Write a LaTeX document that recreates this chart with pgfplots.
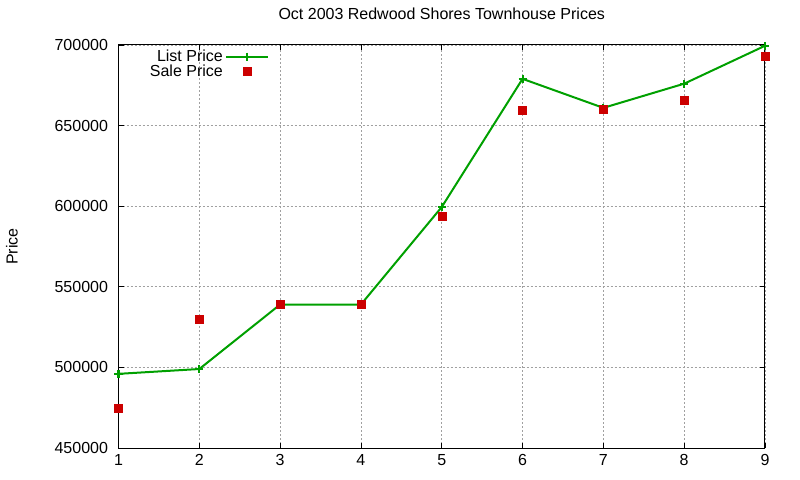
\documentclass[border=0pt]{standalone}
\usepackage{fontspec}
\setmainfont{Liberation Sans}
\usepackage{pgfplots}
\pgfplotsset{compat=1.18}

\definecolor{listgreen}{RGB}{0,160,0}
\definecolor{salered}{RGB}{204,0,0}
\definecolor{gridgray}{RGB}{160,160,160}

\pgfplotsset{
  listlegend/.style={legend image code/.code={\draw[##1, mark repeat=2, mark phase=2]
    plot coordinates {(0bp,0bp)(21bp,0bp)(42bp,0bp)};}},
  salelegend/.style={legend image code/.code={\draw[##1]
    plot coordinates {(21bp,0bp)};}},
}

\begin{document}
\fontsize{16bp}{19bp}\selectfont
\begin{tikzpicture}
\useasboundingbox (0,0) rectangle (800bp,480bp);
\begin{axis}[
  at={(118.5bp,32bp)}, anchor=south west,
  scale only axis, width=646.5bp, height=403bp,
  xmin=1, xmax=9, ymin=450000, ymax=700000,
  xtick={1,...,9},
  ytick={450000,500000,...,700000},
  scaled y ticks=false,
  /pgf/number format/.cd, fixed, set thousands separator={}, assume math mode=true,
  /pgfplots/.cd,
  tick align=inside, major tick length=5bp,
  tick style={black, line width=0.8bp},
  axis line style={black, line width=1bp},
  grid=major,
  major grid style={gridgray, line width=0.8bp, dash pattern=on 2bp off 2bp},
  title={Oct 2003 Redwood Shores Townhouse Prices},
  title style={at={(axis description cs:0.5,1)}, anchor=center, yshift=25bp},
  ylabel={Price},
  ylabel style={at={(axis description cs:-0.165,0.5)}, anchor=center},
  yticklabel style={xshift=-5bp},
  xticklabel style={yshift=-1bp},
  legend plot pos=right,
  legend cell align=right,
  legend style={draw=none, fill=none, at={(axis cs:2.875,700000)}, anchor=north east,
    yshift=-1.5bp, row sep=-3bp, inner sep=1bp,
    nodes={inner sep=2bp},
    /tikz/every even column/.append style={column sep=7bp}},
]
\addplot[listgreen, line width=2bp, mark=+, mark size=4bp,
  mark options={solid, line width=2bp}, listlegend]
  coordinates {
  (1,496000) (2,499000) (3,539000) (4,539000) (5,599500)
  (6,679000) (7,661000) (8,676000) (9,699500)
};
\addlegendentry{List Price}
\addplot[only marks, mark=square*, mark size=4bp, salered,
  mark options={draw=salered, fill=salered}, salelegend]
  coordinates {
  (1,474500) (2,530000) (3,539000) (4,539000) (5,593500)
  (6,659500) (7,660000) (8,665500) (9,692800)
};
\addlegendentry{Sale Price}
\end{axis}
\end{tikzpicture}
\end{document}
